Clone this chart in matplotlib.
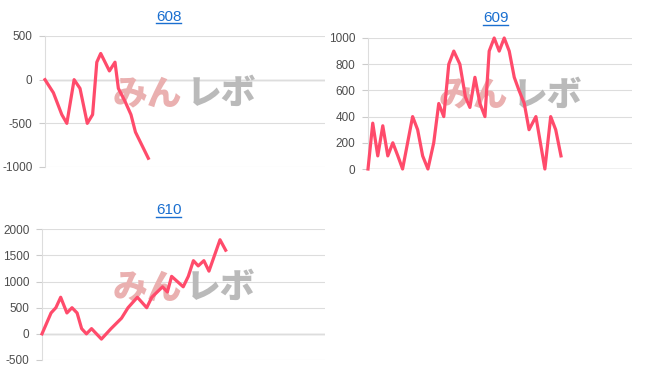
import matplotlib.pyplot as plt
from matplotlib.lines import Line2D

plt.rcParams['font.family'] = ['Liberation Sans', 'DejaVu Sans']
plt.rcParams['axes.unicode_minus'] = False

titles = ['608', '609', '610']

# x = position along the (unlabelled) x axis, 0..100
x608 = [0, 3.0, 6.0, 7.8, 10.4, 12.5, 15.1, 17.0, 18.5, 19.9, 23.0, 25.0, 26.2, 28.6, 30.7, 32.3, 36.9]
y608 = [0, -150, -400, -500, 0, -100, -500, -400, 200, 300, 100, 200, -100, -250, -400, -600, -900]

x609 = [0, 1.8, 3.7, 5.6, 7.5, 9.4, 11.3, 13.1, 16.9, 18.8, 20.7, 22.7, 24.9, 26.8, 28.7, 30.6,
        32.5, 34.8, 36.9, 38.6, 40.5, 42.4, 44.3, 45.9, 47.8, 49.7, 51.6, 53.5, 55.4, 57.2,
        59.2, 61.0, 63.6, 67.0, 69.2, 71.1, 73.1]
y609 = [0, 350, 100, 330, 100, 200, 100, 0, 400, 300, 100, 0, 200, 500, 400, 800,
        900, 800, 550, 470, 700, 500, 400, 900, 1000, 900, 1000, 900, 700, 600,
        500, 300, 400, 0, 400, 300, 100]

x610 = [0, 3.2, 4.9, 6.6, 8.8, 10.6, 12.4, 14.0, 15.7, 17.5, 21.0, 24.4, 28.1, 30.4, 33.7,
        37.0, 38.8, 42.6, 44.3, 45.8, 49.9, 51.7, 53.5, 55.2, 57.2, 59.0, 62.9, 64.9]
y610 = [0, 400, 500, 700, 400, 500, 400, 100, 0, 100, -100, 100, 300, 500, 700,
        500, 700, 900, 800, 1100, 900, 1100, 1400, 1300, 1400, 1200, 1800, 1600]

yticks608 = [-1000, -500, 0, 500]
yticks609 = [0, 200, 400, 600, 800, 1000]
yticks610 = [-500, 0, 500, 1000, 1500, 2000]

W, H = 652, 382
fig = plt.figure(figsize=(W / 100, H / 100), dpi=100)

# axes boxes in pixels: left, top, right, bottom
boxes = [(45, 36, 325, 167), (368, 38, 632, 169), (42, 229.3, 325, 360)]
title_pos = [(168.7, 17), (495.7, 18.5), (168.7, 210.5)]
mark_pos = [(0.49, 0.505, 0.56), (0.53, 0.55, 0.565), (0.495, 0.507, 0.553)]

series = [(x608, y608, yticks608), (x609, y609, yticks609), (x610, y610, yticks610)]
line_color = '#ff4b6b'

for i, (xs, ys, yt) in enumerate(series):
    l, t, r, b = boxes[i]
    ax = fig.add_axes([l / W, 1 - b / H, (r - l) / W, (b - t) / H])
    ax.set_facecolor('none')
    ax.set_xlim(0, 100)
    ax.set_ylim(yt[0], yt[-1])
    ax.set_yticks(yt)
    ax.set_yticklabels([str(v) for v in yt])
    ax.set_xticks([])
    ax.tick_params(axis='y', length=4, color='#cccccc', labelsize=8.5,
                   labelcolor='#4d4d4d', pad=5)
    for s in ['top', 'right', 'bottom']:
        ax.spines[s].set_visible(False)
    ax.spines['left'].set_color('#dddddd')
    ax.grid(axis='y', color='#dddddd', linewidth=0.8, zorder=0)
    ax.set_axisbelow(True)
    ax.axhline(0, color='#999999', linewidth=0.9, zorder=0.5)

    # watermark
    mx1, mx2, my = mark_pos[i]
    ax.text(mx1, my, 'みん', transform=ax.transAxes, ha='right', va='center',
            fontsize=25, fontweight='black', color='#eab0b0',
            family=['Noto Sans CJK JP'], zorder=1)
    ax.text(mx2, my, 'レボ', transform=ax.transAxes, ha='left', va='center',
            fontsize=25, fontweight='black', color='#bababa',
            family=['Noto Sans CJK JP'], zorder=1)

    ax.plot(xs, ys, color=line_color, linewidth=2.3, zorder=3, clip_on=False)

title_texts = []
for i, name in enumerate(titles):
    tx, ty = title_pos[i]
    txt = fig.text(tx / W, 1 - ty / H, name, ha='center', va='center',
                   fontsize=11, color='#1a6fd0')
    title_texts.append(txt)

# underline the titles like links
fig.canvas.draw()
renderer = fig.canvas.get_renderer()
for txt in title_texts:
    bb = txt.get_window_extent(renderer)
    yline = (bb.y0 + 1) / H
    fig.add_artist(Line2D([bb.x0 / W, bb.x1 / W], [yline, yline],
                          color='#1a6fd0', linewidth=1.0, transform=fig.transFigure))

fig.savefig('out.png', dpi=100)
